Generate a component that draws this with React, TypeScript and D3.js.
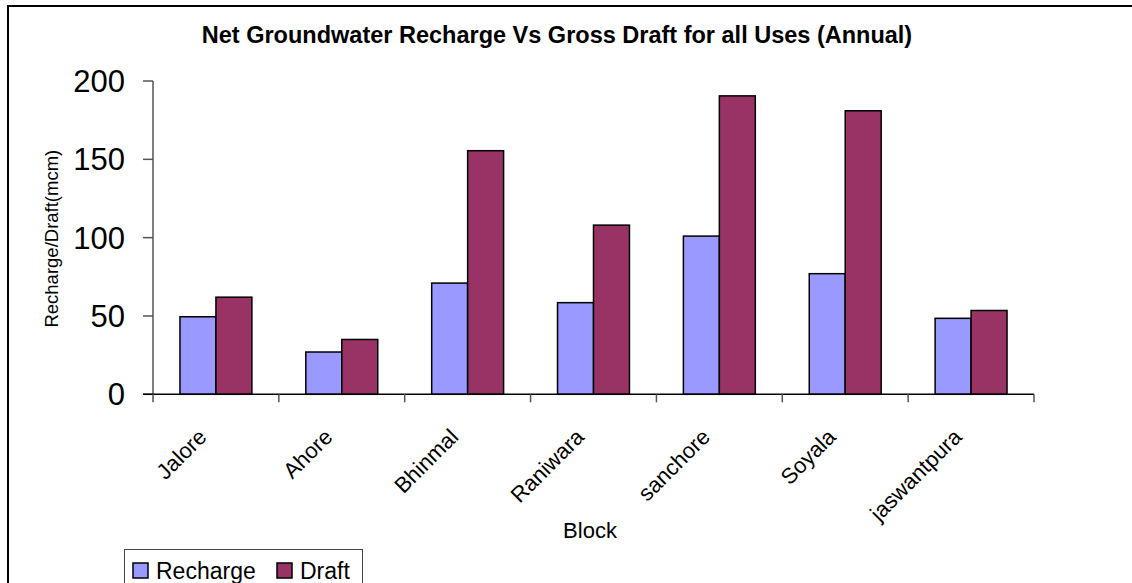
import React from "react";
import * as d3 from "d3";

const categories = ["Jalore", "Ahore", "Bhinmal", "Raniwara", "sanchore", "Soyala", "jaswantpura"];
const recharge = [49.5, 27, 71, 58.5, 101, 77, 48.5];
const draft = [62, 35, 155.5, 108, 190.5, 181, 53.5];
const seriesNames = ["Recharge", "Draft"];
const seriesColors = ["#9999FF", "#993366"];
const yTicks = [0, 50, 100, 150, 200];

const W = 1132;
const H = 583;
const FONT = "'Liberation Sans', Arial, sans-serif";

export default function App() {
  const left = 153;
  const right = 1034;
  const top = 81;
  const bottom = 394.3;

  const x = d3
    .scaleBand<string>()
    .domain(categories)
    .range([left, right])
    .paddingInner(1.5 / 3.5)
    .paddingOuter(0.75 / 3.5);
  const step = x.step();
  const xs = d3.scaleBand<string>().domain(seriesNames).range([0, x.bandwidth()]);
  const y = d3.scaleLinear().domain([0, 200]).range([bottom, top]);

  const values = [recharge, draft];
  const boundaries = d3.range(categories.length + 1).map((i) => left + i * step);

  return (
    <svg width={W} height={H} style={{ position: "absolute", left: 0, top: 0, background: "#fff" }} fontFamily={FONT}>
      <rect x={0} y={0} width={W} height={H} fill="#fff" />
      {/* chart border */}
      <rect x={8} y={6} width={W + 50} height={H + 50} fill="none" stroke="#000" strokeWidth={2} />

      {/* title */}
      <text x={557} y={43} textAnchor="middle" fontSize={23.5} fontWeight="bold" fill="#000">
        Net Groundwater Recharge Vs Gross Draft for all Uses (Annual)
      </text>

      {/* bars */}
      {categories.map((c, i) => (
        <g key={c}>
          {seriesNames.map((s, j) => {
            const v = values[j][i];
            const bx = (x(c) as number) + (xs(s) as number);
            return (
              <rect
                key={s}
                x={bx}
                y={y(v)}
                width={xs.bandwidth()}
                height={y(0) - y(v)}
                fill={seriesColors[j]}
                stroke="#000"
                strokeWidth={1.5}
              />
            );
          })}
        </g>
      ))}

      {/* y axis */}
      <line x1={left} x2={left} y1={top} y2={bottom} stroke="#555" strokeWidth={1.5} />
      {yTicks.map((t) => (
        <g key={t}>
          <line x1={left - 10} x2={left} y1={y(t)} y2={y(t)} stroke="#555" strokeWidth={1.5} />
          <text x={125} y={y(t)} dy="0.36em" textAnchor="end" fontSize={31} fill="#000">
            {t}
          </text>
        </g>
      ))}

      {/* x axis */}
      <line x1={left - 10} x2={right} y1={bottom} y2={bottom} stroke="#000" strokeWidth={1.5} />
      {boundaries.map((bx, i) => (
        <line key={i} x1={bx} x2={bx} y1={bottom} y2={bottom + 8} stroke="#555" strokeWidth={1.5} />
      ))}
      {categories.map((c) => {
        const cx = (x(c) as number) + x.bandwidth() / 2;
        return (
          <text
            key={c}
            transform={`translate(${cx - 8},${bottom + 44}) rotate(-45)`}
            textAnchor="end"
            fontSize={22}
            fill="#000"
          >
            {c}
          </text>
        );
      })}

      {/* axis titles */}
      <text x={590} y={538} textAnchor="middle" fontSize={22} fill="#000">
        Block
      </text>
      <text transform={`translate(58,${(top + bottom) / 2 + 1}) rotate(-90)`} textAnchor="middle" fontSize={18.5} fill="#000">
        Recharge/Draft(mcm)
      </text>

      {/* legend */}
      <rect x={124.5} y={549.5} width={238} height={60} fill="#fff" stroke="#444" strokeWidth={1} />
      {seriesNames.map((s, j) => {
        const lx = j === 0 ? 133 : 277;
        return (
          <g key={s}>
            <rect x={lx} y={563} width={15} height={15} fill={seriesColors[j]} stroke="#000" strokeWidth={1.5} />
            <text x={lx + 23} y={579} fontSize={23} fill="#000">
              {s}
            </text>
          </g>
        );
      })}
    </svg>
  );
}
